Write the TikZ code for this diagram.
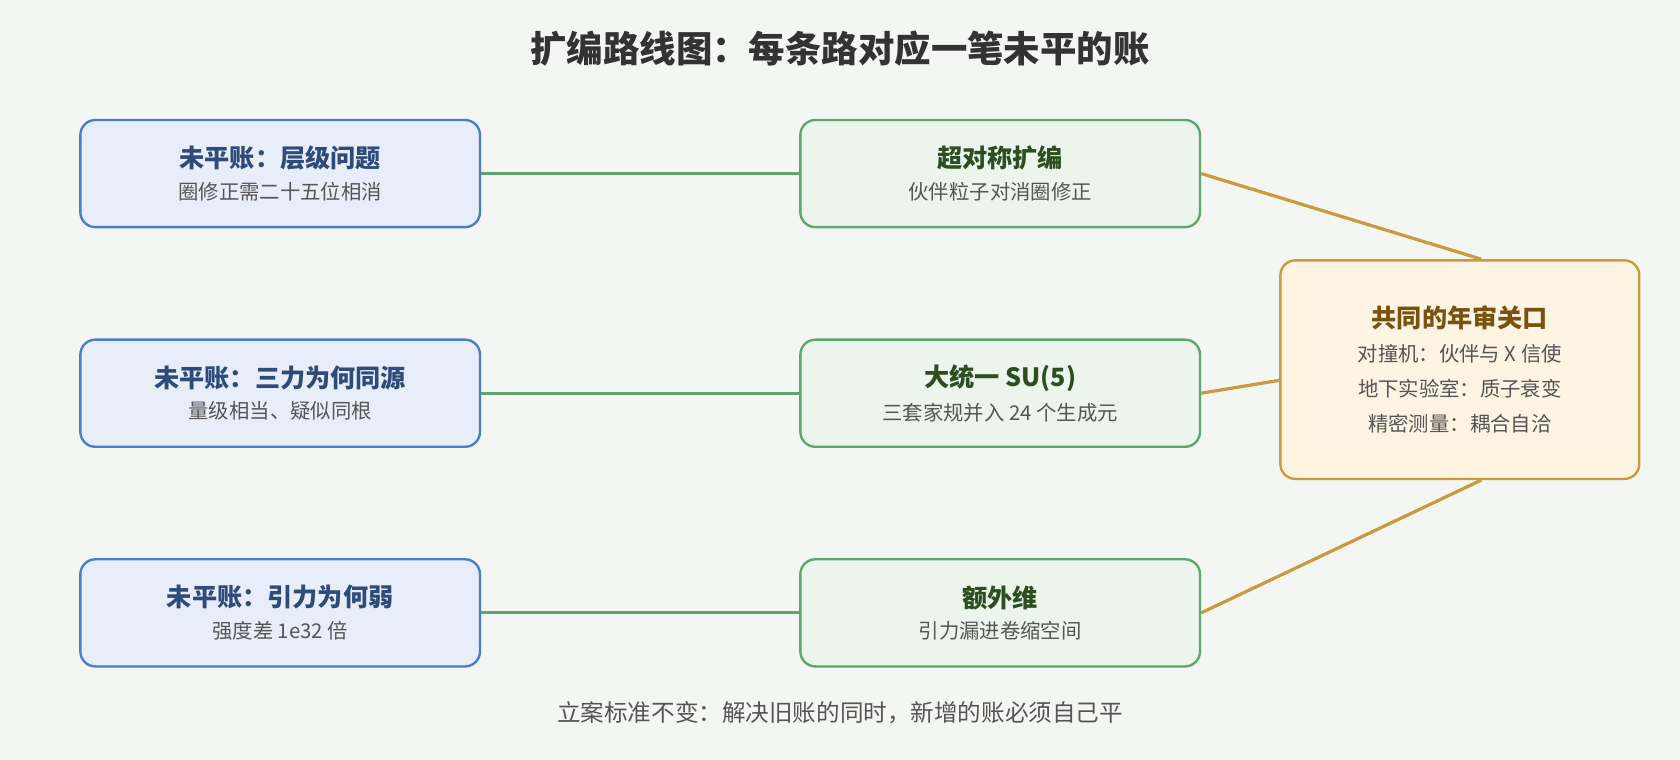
\documentclass[tikz,border=0pt]{standalone}
\usepackage{fontspec}
\setmainfont{Noto Sans CJK SC}
\usetikzlibrary{positioning}
\definecolor{bg}{HTML}{F4F6F3}
\definecolor{bfill}{HTML}{E8EEF9}\definecolor{bline}{HTML}{4A7CC9}\definecolor{btext}{HTML}{2F4B7A}
\definecolor{gfill}{HTML}{EBF5EC}\definecolor{gline}{HTML}{5FA66E}\definecolor{gtext}{HTML}{2E4E22}
\definecolor{ofill}{HTML}{FDF4E4}\definecolor{oline}{HTML}{C99A3E}\definecolor{otext}{HTML}{7A5210}
\definecolor{sub}{HTML}{555555}
\newcommand{\mytb}[2]{\textcolor{#1}{\bfseries\fontsize{23.5}{26}\selectfont #2}}
\newcommand{\mysb}[1]{{\fontsize{19}{22}\selectfont\color{sub}#1}}
\begin{document}
\begin{tikzpicture}[x=1pt,y=-1pt,
 box/.style={draw,line width=2.2pt,rounded corners=14pt,minimum width=373pt,minimum height=100pt,inner sep=0pt,align=center},
 lbox/.style={box,fill=bfill,draw=bline},
 mbox/.style={box,fill=gfill,draw=gline},
 gl/.style={draw=gline,line width=3pt},
 ol/.style={draw=oline,line width=3pt}]
\fill[bg] (0,0) rectangle (1568,709);
\useasboundingbox (0,0) rectangle (1568,709);
\node[font=\bfseries\fontsize{34}{38}\selectfont,text=black!80] (title) at (784,45) {扩编路线图：每条路对应一笔未平的账};
\node[lbox] (l1) at (261.5,162) {\mytb{btext}{未平账：层级问题}\\[10pt]\mysb{圈修正需二十五位相消}};
\node[lbox] (l2) at (261.5,367) {\mytb{btext}{未平账：三力为何同源}\\[10pt]\mysb{量级相当、疑似同根}};
\node[lbox] (l3) at (261.5,572) {\mytb{btext}{未平账：引力为何弱}\\[10pt]\mysb{强度差 1e32 倍}};
\node[mbox] (m1) at (933.5,162) {\mytb{gtext}{超对称扩编}\\[10pt]\mysb{伙伴粒子对消圈修正}};
\node[mbox] (m2) at (933.5,367) {\mytb{gtext}{大统一 SU(5)}\\[10pt]\mysb{三套家规并入 24 个生成元}};
\node[mbox] (m3) at (933.5,572) {\mytb{gtext}{额外维}\\[10pt]\mysb{引力漏进卷缩空间}};
\node[box,fill=ofill,draw=oline,minimum width=335pt,minimum height=204pt] (r) at (1362.5,345) {\mytb{otext}{共同的年审关口}\\[12pt]\mysb{对撞机：伙伴与 X 信使}\\[14pt]\mysb{地下实验室：质子衰变}\\[14pt]\mysb{精密测量：耦合自洽}};
\node[font=\fontsize{22}{26}\selectfont,text=sub] (foot) at (784,665) {立案标准不变：解决旧账的同时，新增的账必须自己平};
\draw[gl] (l1.east) -- (m1.west);
\draw[gl] (l2.east) -- (m2.west);
\draw[gl] (l3.east) -- (m3.west);
\draw[ol] (m1.east) -- ([xshift=20pt]r.north);
\draw[ol] (m2.east) -- ([yshift=-10pt]r.west);
\draw[ol] (m3.east) -- ([xshift=20pt]r.south);
\end{tikzpicture}
\end{document}
